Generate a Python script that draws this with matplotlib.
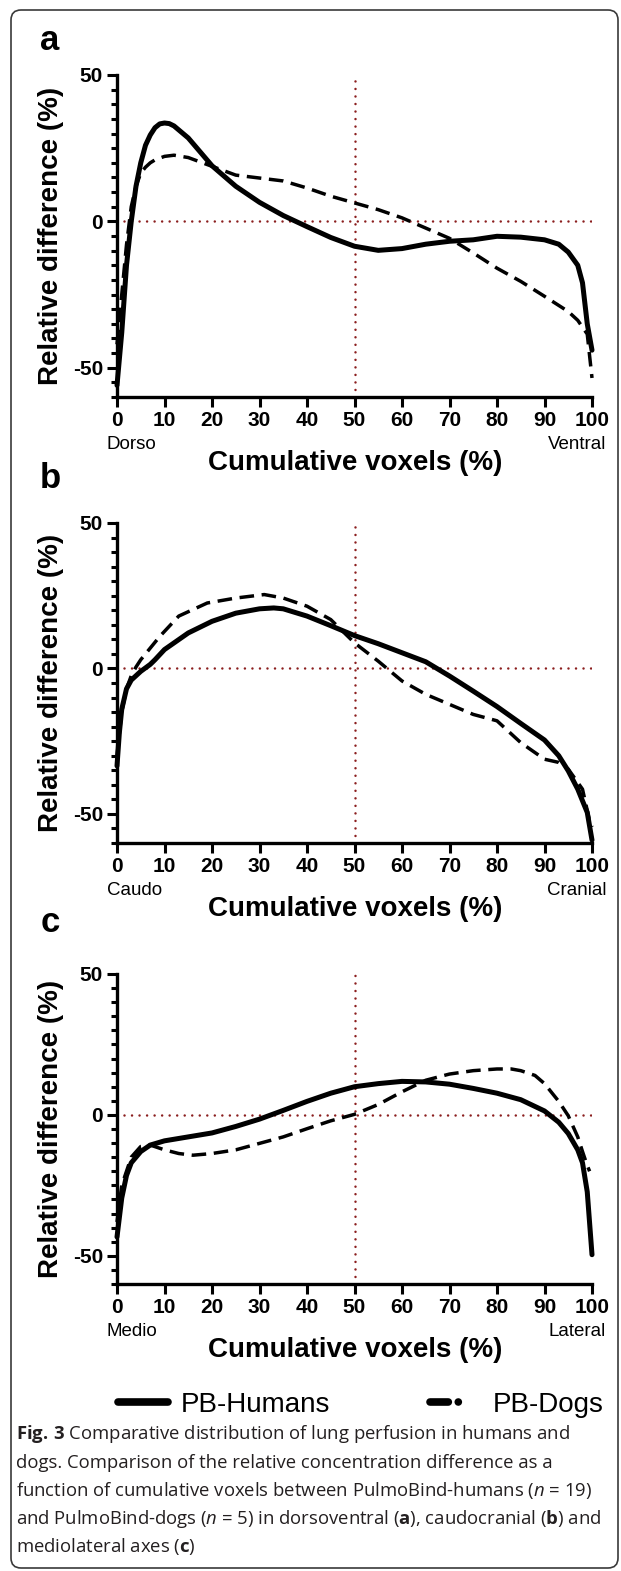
import matplotlib
matplotlib.use("Agg")
import matplotlib.pyplot as plt
from matplotlib.lines import Line2D
from matplotlib.patches import FancyBboxPatch
from matplotlib.transforms import IdentityTransform

plt.rcParams['font.family'] = ['Liberation Sans', 'DejaVu Sans']
plt.rcParams['axes.unicode_minus'] = False
plt.rcParams['mathtext.fontset'] = 'custom'
plt.rcParams['mathtext.rm'] = 'Open Sans'
plt.rcParams['mathtext.it'] = 'Open Sans:italic'
plt.rcParams['mathtext.bf'] = 'Open Sans:bold'

# ---- data ----
a_hum_x = [0, 1, 2, 3, 4, 5, 6, 7, 8, 9, 10, 11, 12, 15, 20, 25, 30, 35, 40, 45, 50,
           55, 60, 65, 70, 75, 80, 85, 90, 93, 95, 97, 98, 99, 100]
a_hum_y = [-56, -38, -15, 0, 12, 20, 26, 29.5, 32, 33.3, 33.6, 33.4, 32.6, 28.5, 19, 12,
           6.5, 2, -1.8, -5.5, -8.5, -9.9, -9.3, -7.8, -6.8, -6.3, -5.1, -5.4, -6.3, -7.8,
           -10.5, -15, -21, -35, -44]
a_dog_x = [0, 1, 2, 3, 4, 5, 6, 7, 8, 10, 12, 15, 20, 25, 30, 35, 40, 45, 50, 55, 60,
           65, 70, 75, 80, 85, 90, 95, 97, 99, 100]
a_dog_y = [-42, -25, -8, 5, 12, 16.5, 18.5, 20, 21, 22.2, 22.6, 21.8, 18.8, 15.8, 14.8,
           13.8, 11.4, 8.6, 6.3, 4, 1.2, -2.3, -5.8, -10.8, -16, -20.5, -25.6, -30.8,
           -33.8, -38.5, -53.5]

b_hum_x = [0, 0.5, 1, 2, 3, 5, 7, 8, 10, 15, 20, 25, 30, 33, 35, 40, 45, 50, 55, 60, 65,
           70, 75, 80, 85, 90, 93, 95, 97, 99, 100]
b_hum_y = [-33.5, -22, -14, -7, -4, -1, 1.4, 3, 6.5, 12.2, 16.2, 19, 20.5, 20.8, 20.5, 18,
           14.7, 11.3, 8.5, 5.4, 2.3, -2.6, -7.8, -13.1, -18.9, -24.6, -30, -35.2, -41.5,
           -49.5, -59]
b_dog_x = [0, 1, 2, 3, 4, 5, 9, 13, 19, 25, 31, 35, 40, 45, 50, 55, 60, 65, 75, 80, 85,
           90, 93, 95, 98, 99.5, 100]
b_dog_y = [-30, -15, -7, -2.5, 0.5, 3, 11, 18, 22.5, 24.2, 25.4, 24.2, 21.4, 16.8, 8.8,
           2.5, -4.3, -8.9, -15.8, -18, -25.5, -31.2, -32.3, -34.6, -41.5, -52.5, -54.5]

c_hum_x = [0, 1, 2, 3, 5, 7, 10, 15, 20, 25, 30, 35, 40, 45, 50, 55, 60, 65, 70, 75, 80,
           85, 90, 93, 95, 97, 98, 99, 100]
c_hum_y = [-43.3, -29.5, -21.5, -17, -13, -10.7, -9.2, -7.8, -6.4, -4.1, -1.5, 1.6, 4.8,
           7.7, 10, 11.1, 11.9, 11.7, 10.9, 9.4, 7.7, 5.4, 1.4, -2.6, -6.6, -12.4, -17,
           -27.3, -49.6]
c_dog_x = [0, 1, 3, 5, 7, 10, 13, 16, 20, 25, 30, 35, 40, 45, 50, 55, 60, 65, 70, 75, 80,
           83, 85, 88, 90, 93, 95, 97, 98, 99, 99.5]
c_dog_y = [-38, -25, -15, -11.2, -10.7, -12.4, -13.7, -14.3, -13.7, -12.4, -10.1, -7.8,
           -4.9, -2.1, 0.2, 3.7, 8.2, 12.3, 14.5, 15.7, 16.3, 16.3, 15.7, 14, 11.1, 4.8,
           -0.3, -7.8, -13, -18, -20]

panel_letters = ['a', 'b', 'c']
end_labels = [('Dorso', 'Ventral'), ('Caudo', 'Cranial'), ('Medio', 'Lateral')]
x_ticks = list(range(0, 101, 10))
y_ticks = [-50, 0, 50]
legend_labels = ['PB-Humans', 'PB-Dogs']
caption = [
    r"$\mathbf{Fig.\,3}$ Comparative distribution of lung perfusion in humans and",
    "dogs. Comparison of the relative concentration difference as a",
    r"function of cumulative voxels between PulmoBind-humans ($\mathit{n}$ = 19)",
    r"and PulmoBind-dogs ($\mathit{n}$ = 5) in dorsoventral ($\mathbf{a}$), caudocranial ($\mathbf{b}$) and",
    r"mediolateral axes ($\mathbf{c}$)",
]

W, H = 621, 1571
fig = plt.figure(figsize=(W / 100, H / 100), dpi=100)
fig.patch.set_facecolor('white')

RED = '#8b1e1e'
LEFT, RIGHT = 117, 592
tops = [75, 523, 974]        # pixel row of y = 50
bottoms = [397, 843, 1284]   # pixel row of y = -60
letter_y = [40, 478, 922]


def fy(py):
    return 1 - py / H


data = [(a_hum_x, a_hum_y, a_dog_x, a_dog_y),
        (b_hum_x, b_hum_y, b_dog_x, b_dog_y),
        (c_hum_x, c_hum_y, c_dog_x, c_dog_y)]

for i in range(3):
    top, bot = tops[i], bottoms[i]
    ax = fig.add_axes([LEFT / W, fy(bot), (RIGHT - LEFT) / W, (bot - top) / H])
    hx, hy, dx, dy = data[i]

    # reference lines
    ax.plot([1.5, 100], [0, 0], color=RED, lw=1.8, linestyle=(0, (0.01, 3.0)),
            dash_capstyle='round', zorder=1)
    ax.plot([50, 50], [-60, 50], color=RED, lw=1.8, linestyle=(0, (0.01, 3.0)),
            dash_capstyle='round', zorder=1)

    ax.plot(dx, dy, color='k', lw=2.5, linestyle=(0, (4.2, 2.2)), zorder=3,
            clip_on=False)
    ax.plot(hx, hy, color='k', lw=3.6, solid_capstyle='round',
            solid_joinstyle='round', zorder=4, clip_on=False)

    ax.set_xlim(0, 100)
    ax.set_ylim(-60, 50)
    for s in ['top', 'right']:
        ax.spines[s].set_visible(False)
    for s in ['left', 'bottom']:
        ax.spines[s].set_linewidth(2.4)
    ax.set_xticks(x_ticks)
    ax.set_yticks(y_ticks)
    ax.set_yticks(range(-60, 51, 5), minor=True)
    ax.tick_params(which='major', length=7, width=2.2, labelsize=15, pad=3)
    ax.tick_params(which='minor', length=4.5, width=2.2)
    for lab in ax.get_xticklabels() + ax.get_yticklabels():
        lab.set_fontweight('bold')
    ax.patch.set_alpha(0)

    ax.set_ylabel('Relative difference (%)', fontsize=20, fontweight='bold')
    ax.yaxis.set_label_coords(-0.112, 0.5)

    fig.text(355 / W, fy(bot + 66), 'Cumulative voxels (%)', fontsize=20,
             fontweight='bold', ha='center', va='center')
    fig.text(107 / W, fy(bot + 48), end_labels[i][0], fontsize=13.5,
             ha='left', va='center')
    fig.text(606 / W, fy(bot + 48), end_labels[i][1], fontsize=13.5,
             ha='right', va='center')
    fig.text(50 / W, fy(letter_y[i]), panel_letters[i], fontsize=25,
             fontweight='bold', ha='center', va='center')

# legend
h_hum = Line2D([], [], color='k', lw=5.5, solid_capstyle='round')
h_dog = Line2D([], [], color='k', lw=5.5, linestyle=(0, (2.4, 1.3, 0.01, 4)),
               dash_capstyle='round')
fig.legend([h_hum, h_dog], legend_labels, loc='center left',
           bbox_to_anchor=(118 / W, fy(1405)), ncol=2, frameon=False, fontsize=20,
           handlelength=1.8, handletextpad=0.45, columnspacing=3.6,
           borderpad=0, borderaxespad=0)

# caption
cap_y = [1439, 1468, 1496, 1524, 1552]
for line, yy in zip(caption, cap_y):
    fig.text(16 / W, fy(yy), line, family='Open Sans', fontsize=13.3,
             color='#231f20', ha='left', va='baseline')

# rounded frame (pixel coordinates)
frame = FancyBboxPatch((11, H - 1568), 607, 1558,
                       boxstyle='round,pad=0,rounding_size=10',
                       transform=IdentityTransform(), fill=False,
                       ec='#3a3a3a', lw=1.2)
fig.add_artist(frame)

fig.savefig('out.png', dpi=100)
